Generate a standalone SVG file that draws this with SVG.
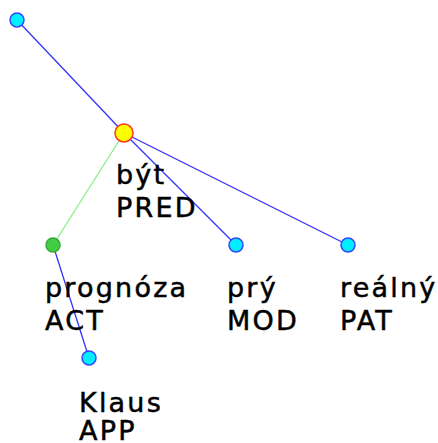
<svg xmlns="http://www.w3.org/2000/svg" width="438" height="443" viewBox="0 0 438 443">
<style>
.t{font-family:"DejaVu Sans",sans-serif;font-size:27px;letter-spacing:2.2px;fill:#000;stroke:#000;stroke-width:0.5}
.e{stroke:#3333ff;stroke-width:1.3;fill:none}
.g{stroke:#88ee88;stroke-width:1.3;fill:none}
.c{fill:#00eeff;stroke:#3344ff;stroke-width:1.5}
</style>
<rect width="438" height="443" fill="#fff"/>
<g id="connectors">
<line class="e" x1="17" y1="20" x2="124" y2="133"/>
<line class="g" x1="124" y1="133" x2="53" y2="245"/>
<line class="e" x1="124" y1="133" x2="236" y2="245"/>
<line class="e" x1="124" y1="133" x2="348" y2="245"/>
<line class="e" x1="53" y1="245" x2="89" y2="358"/>
</g>
<g id="root"><circle class="c" cx="17" cy="20" r="7"/></g>
<g id="byt"><circle cx="124" cy="133" r="9" fill="#ffff00" stroke="#ff3322" stroke-width="1.5"/>
<text class="t" x="116" y="184">být</text><text class="t" x="116" y="217">PRED</text></g>
<g id="prognoza"><circle cx="53" cy="245" r="7" fill="#44cc44" stroke="#33aa33" stroke-width="1.5"/>
<text class="t" x="45" y="297">prognóza</text><text class="t" x="45" y="330">ACT</text></g>
<g id="pry"><circle class="c" cx="236" cy="245" r="7"/>
<text class="t" x="227" y="297">prý</text><text class="t" x="227" y="330">MOD</text></g>
<g id="realny"><circle class="c" cx="348" cy="245" r="7"/>
<text class="t" x="340" y="297">reálný</text><text class="t" x="340" y="330">PAT</text></g>
<g id="klaus"><circle class="c" cx="89" cy="358" r="7"/>
<text class="t" x="79" y="412">Klaus</text><text class="t" x="79" y="440">APP</text></g>
</svg>
